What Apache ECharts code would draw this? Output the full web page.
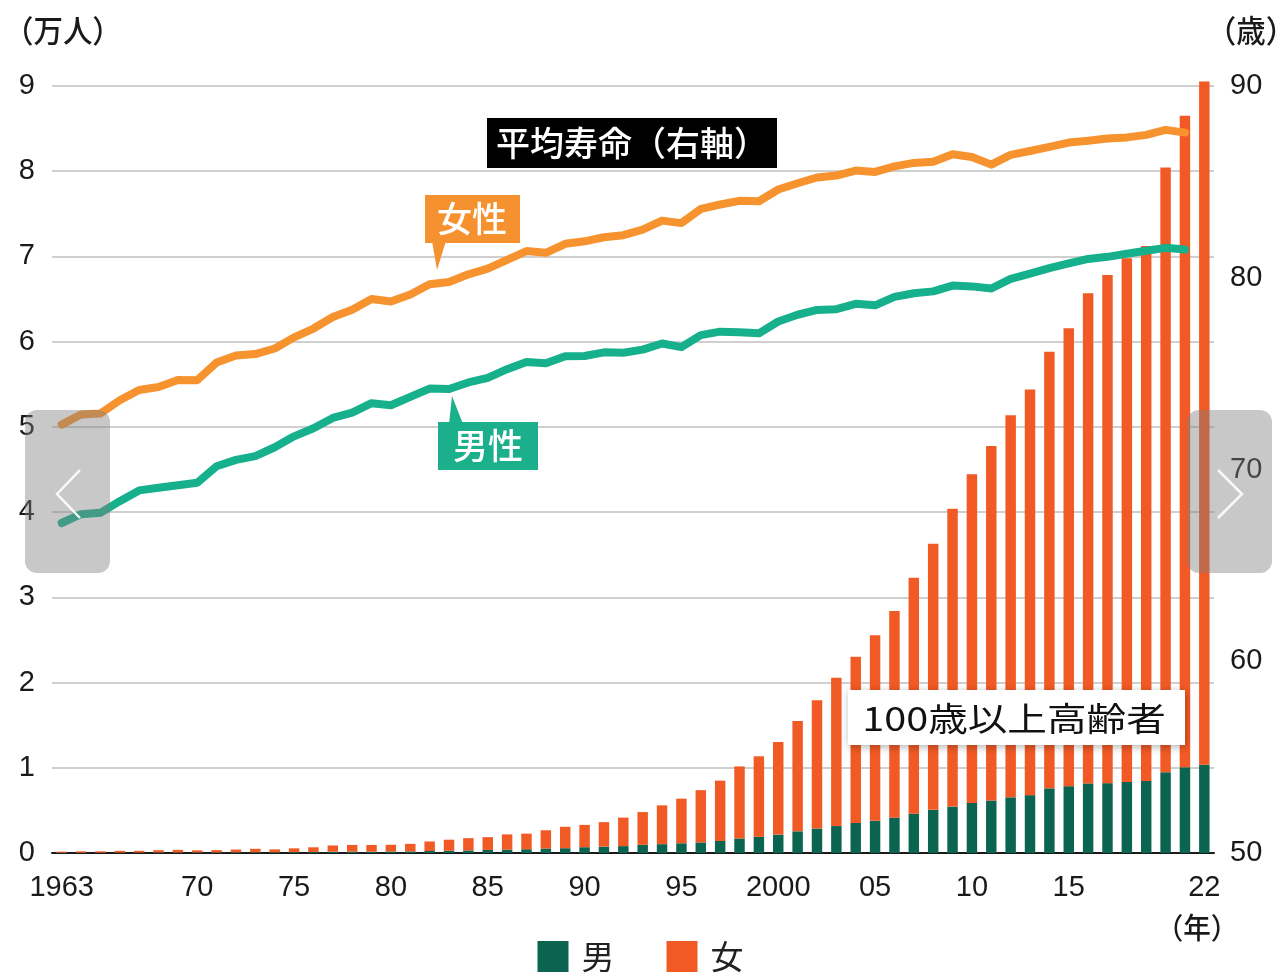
<!DOCTYPE html>
<html><head><meta charset="utf-8">
<script src="https://cdn.jsdelivr.net/npm/echarts@6/dist/echarts.min.js"></script>
<style>html,body{margin:0;padding:0;background:#fff}#c{width:1281px;height:980px}</style>
</head><body><div id="c"></div>
<script>
const years = [1963,1964,1965,1966,1967,1968,1969,1970,1971,1972,1973,1974,1975,1976,1977,1978,1979,1980,1981,1982,1983,1984,1985,1986,1987,1988,1989,1990,1991,1992,1993,1994,1995,1996,1997,1998,1999,2000,2001,2002,2003,2004,2005,2006,2007,2008,2009,2010,2011,2012,2013,2014,2015,2016,2017,2018,2019,2020,2021,2022];
// 100歳以上高齢者 (万人)
const male = [0.0020,0.0031,0.0036,0.0046,0.0052,0.0057,0.0058,0.0062,0.0063,0.0078,0.0087,0.0080,0.0102,0.0121,0.0152,0.0160,0.0149,0.0174,0.0188,0.0234,0.0262,0.0302,0.0359,0.0397,0.0444,0.0531,0.0563,0.0680,0.0747,0.0811,0.0957,0.1037,0.1141,0.1244,0.1408,0.1709,0.1895,0.2158,0.2541,0.2875,0.3159,0.3523,0.3779,0.4150,0.4613,0.5063,0.5447,0.5869,0.6162,0.6534,0.6791,0.7586,0.7840,0.8167,0.8197,0.8331,0.8463,0.9475,1.0060,1.0365];
const female = [0.0133,0.0160,0.0162,0.0206,0.0203,0.0270,0.0307,0.0248,0.0276,0.0327,0.0408,0.0347,0.0446,0.0545,0.0730,0.0790,0.0788,0.0794,0.0884,0.1120,0.1299,0.1438,0.1500,0.1786,0.1827,0.2137,0.2515,0.2618,0.2878,0.3341,0.3845,0.4556,0.5237,0.6129,0.7083,0.8449,0.9451,1.0878,1.2934,1.5059,1.7402,1.9515,2.1775,2.4245,2.7682,3.1213,3.4952,3.8580,4.1594,4.4842,4.7606,5.1234,5.3728,5.7525,5.9627,6.1454,6.2775,7.0975,7.6450,8.0161];
// 平均寿命 (歳)
const lifeFemale = [72.34,72.87,72.92,73.61,74.15,74.30,74.67,74.66,75.58,75.94,76.02,76.31,76.89,77.35,77.95,78.33,78.89,78.76,79.13,79.66,79.78,80.18,80.48,80.93,81.39,81.30,81.77,81.90,82.11,82.22,82.51,82.98,82.85,83.59,83.82,84.01,83.99,84.60,84.93,85.23,85.33,85.59,85.52,85.81,85.99,86.05,86.44,86.30,85.90,86.41,86.61,86.83,87.05,87.14,87.26,87.32,87.45,87.71,87.57,null];
const lifeMale = [67.21,67.67,67.74,68.35,68.91,69.05,69.18,69.31,70.17,70.50,70.70,71.16,71.73,72.15,72.69,72.97,73.46,73.35,73.79,74.22,74.20,74.54,74.78,75.23,75.61,75.54,75.91,75.92,76.11,76.09,76.25,76.57,76.38,77.01,77.19,77.16,77.10,77.72,78.07,78.32,78.36,78.64,78.56,79.00,79.19,79.29,79.59,79.55,79.44,79.94,80.21,80.50,80.75,80.98,81.09,81.25,81.41,81.56,81.47,null];
const labelYears = [1963,1970,1975,1980,1985,1990,1995,2000,2005,2010,2015,2022];
const labelTexts = ['1963','70','75','80','85','90','95','2000','05','10','15','22'];
const leftTicks = {min:0, max:9, interval:1};
const rightTicks = {min:50, max:90, interval:10};

const numFont = "'Liberation Sans', Arial, sans-serif";
const jpFont = "'Noto Sans CJK JP', sans-serif";
const chart = echarts.init(document.getElementById('c'));

function jpText(x, y, text, color, size, sx, weight) {
  return {type:'text', x:x, y:y, scaleX:sx, z:100,
    style:{text:text, fill:color, font:(weight||500)+' '+size+'px '+jpFont, align:'center', verticalAlign:'middle'}};
}

chart.setOption({
  animation:false,
  backgroundColor:'#fff',
  grid:{left:52, right:67, top:86, bottom:127, containLabel:false},
  legend:{
    bottom:2, left:'center', itemWidth:31, itemHeight:31, itemGap:52, icon:'rect',
    textStyle:{fontSize:33, fontFamily:jpFont, color:'#222', padding:[0,0,0,8]},
    data:['男','女']
  },
  xAxis:{
    type:'category', data:years, boundaryGap:true,
    axisLine:{lineStyle:{color:'#1a1a1a', width:2}},
    axisTick:{show:false},
    axisLabel:{interval:0, margin:20, fontSize:29, fontFamily:numFont, color:'#1a1a1a',
      formatter:function(v){ const i = labelYears.indexOf(Number(v)); return i>=0 ? labelTexts[i] : ''; }}
  },
  yAxis:[
    {type:'value', min:leftTicks.min, max:leftTicks.max, interval:leftTicks.interval,
     axisLine:{show:false}, axisTick:{show:false},
     axisLabel:{margin:17, fontSize:29, fontFamily:numFont, color:'#1a1a1a'},
     splitLine:{lineStyle:{color:'#cfcfcf', width:2}}},
    {type:'value', min:rightTicks.min, max:rightTicks.max, interval:rightTicks.interval, position:'right',
     axisLine:{show:false}, axisTick:{show:false},
     axisLabel:{margin:16, fontSize:29, fontFamily:numFont, color:'#1a1a1a'},
     splitLine:{show:false}}
  ],
  series:[
    {name:'男', type:'bar', stack:'p', data:male, barWidth:'54%', clip:false, itemStyle:{color:'#0B6450'}},
    {name:'女', type:'bar', stack:'p', data:female, barWidth:'54%', clip:false, itemStyle:{color:'#F15A24'}},
    {name:'女性寿命', type:'line', yAxisIndex:1, data:lifeFemale, symbol:'none', smooth:false,
     lineStyle:{color:'#F7932F', width:8, cap:'round', join:'round'}, z:5},
    {name:'男性寿命', type:'line', yAxisIndex:1, data:lifeMale, symbol:'none', smooth:false,
     lineStyle:{color:'#16B08C', width:8, cap:'round', join:'round'}, z:5}
  ],
  graphic:[
    {type:'text', x:4, y:30, z:100, scaleX:0.95, style:{text:'（万人）', fill:'#1a1a1a', font:'500 31px '+jpFont, align:'left', verticalAlign:'middle'}},
    {type:'text', x:1251, y:30, z:100, scaleX:0.95, style:{text:'（歳）', fill:'#1a1a1a', font:'500 31px '+jpFont, align:'center', verticalAlign:'middle'}},
    {type:'text', x:1197, y:928, z:100, scaleX:0.95, style:{text:'（年）', fill:'#1a1a1a', font:'500 29px '+jpFont, align:'center', verticalAlign:'middle'}},
    // 平均寿命 box
    {type:'rect', z:90, shape:{x:487, y:118, width:290, height:50}, style:{fill:'#000'}},
    jpText(632, 143, '平均寿命（右軸）', '#fff', 34, 1.0),
    // 女性 label
    {type:'polygon', z:90, shape:{points:[[432,241],[446,241],[437,270]]}, style:{fill:'#F5922F'}},
    {type:'rect', z:90, shape:{x:425, y:195, width:95, height:48}, style:{fill:'#F5922F'}},
    jpText(472, 219, '女性', '#fff', 35, 1.0),
    // 男性 label
    {type:'polygon', z:90, shape:{points:[[449,424],[463,424],[452,396]]}, style:{fill:'#1BAF8C'}},
    {type:'rect', z:90, shape:{x:438, y:422, width:100, height:48}, style:{fill:'#1BAF8C'}},
    jpText(488, 446, '男性', '#fff', 35, 1.0),
    // 100歳以上高齢者 label
    {type:'rect', z:90, shape:{x:848, y:690, width:337, height:55},
     style:{fill:'#fff', shadowBlur:8, shadowColor:'rgba(0,0,0,0.3)', shadowOffsetX:1, shadowOffsetY:2}},
    jpText(1014, 718, '100歳以上高齢者', '#111', 33, 1.2, 400),
    // carousel buttons
    {type:'rect', z:200, shape:{x:25, y:410, width:85, height:163, r:12}, style:{fill:'rgba(128,128,128,0.43)'}},
    {type:'polyline', z:201, shape:{points:[[80,470],[57,494],[80,518]]}, style:{stroke:'rgba(255,255,255,0.9)', lineWidth:2.5, fill:null}},
    {type:'rect', z:200, shape:{x:1187, y:410, width:85, height:163, r:12}, style:{fill:'rgba(128,128,128,0.43)'}},
    {type:'polyline', z:201, shape:{points:[[1218,470],[1242,494],[1218,518]]}, style:{stroke:'rgba(255,255,255,0.9)', lineWidth:2.5, fill:null}}
  ]
});
</script>
</body></html>
